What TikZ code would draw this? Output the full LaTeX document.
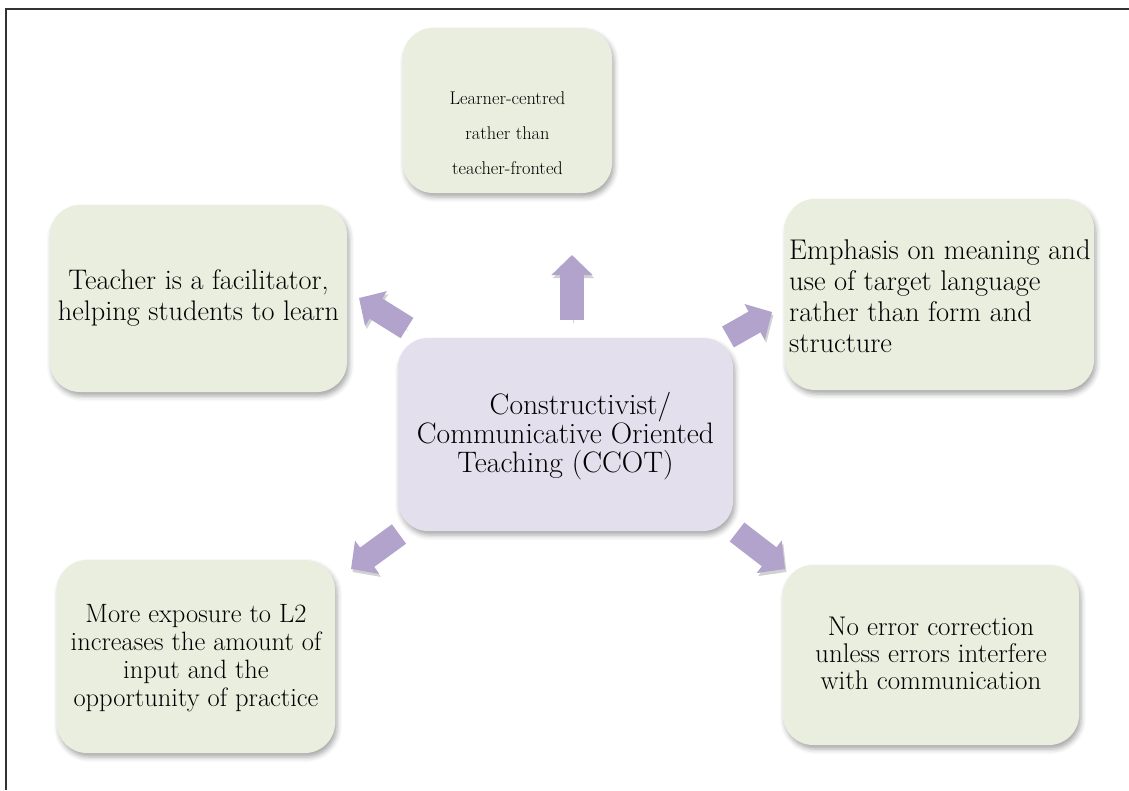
\documentclass[tikz,border=0pt]{standalone}
\usepackage{fontspec}
\usetikzlibrary{arrows.meta,shadows.blur}
\definecolor{boxgreen}{RGB}{234,238,223}
\definecolor{boxlilac}{RGB}{227,223,236}
\definecolor{arrowlilac}{RGB}{177,163,203}
\definecolor{framegray}{RGB}{50,50,50}
\tikzset{
  card/.style={rounded corners=30pt, fill=boxgreen, draw=none, inner sep=0pt,
    blur shadow={shadow xshift=2pt, shadow yshift=-4pt, shadow blur radius=5pt, shadow opacity=35}},
  hubcard/.style={card, fill=boxlilac},
  cardtext/.style={inner sep=0pt, align=center, text=black},
  bigarrow/.style={draw=arrowlilac, line width=24pt, -{Triangle[width=40pt,length=20pt]},
    preaction={draw=black!18, transform canvas={shift={(1.5pt,-3pt)}}}},
}
\begin{document}
\begin{tikzpicture}[x=1pt,y=-1pt]
\useasboundingbox (0,0) rectangle (1129,790);
\draw[framegray, line width=2pt] (6,790) -- (6,9) -- (1129,9);

% boxes
\node[card, minimum width=209pt, minimum height=165pt] (top) at (507.5,110.5) {};
\node[card, minimum width=297pt, minimum height=187pt] (tl) at (198.5,298.5) {};
\node[card, minimum width=309pt, minimum height=191pt] (tr) at (939.5,294.5) {};
\node[hubcard, minimum width=335pt, minimum height=193pt] (hub) at (565.5,434.5) {};
\node[card, minimum width=278pt, minimum height=193pt] (bl) at (196,656.5) {};
\node[card, minimum width=296pt, minimum height=180pt] (br) at (931,655) {};

% texts
\node[cardtext, font=\fontsize{18.4}{35}\selectfont] (toptext) at (507.5,133)
  {Learner-centred\\rather than\\teacher-fronted};
\node[cardtext, font=\fontsize{28.3}{31}\selectfont] (tltext) at (198.5,298)
  {Teacher is a facilitator,\\helping students to learn};
\node[cardtext, align=left, anchor=west, font=\fontsize{28.5}{31}\selectfont] (trtext) at (789,296.5)
  {Emphasis on meaning and\\use of target language\\rather than form and\\structure};
\node[cardtext, font=\fontsize{29.6}{29}\selectfont] (hubtext) at (565.5,436)
  {\hspace*{30pt}Constructivist/\\Communicative Oriented\\Teaching (CCOT)};
\node[cardtext, font=\fontsize{26.5}{28}\selectfont] (bltext) at (196,658.5)
  {More exposure to L2\\increases the amount of\\input and the\\opportunity of practice};
\node[cardtext, font=\fontsize{27}{27}\selectfont] (brtext) at (931,653)
  {No error correction\\unless errors interfere\\with communication};

% arrows
\coordinate (a1s) at (572,320); \coordinate (a1e) at (572,255);
\coordinate (a2s) at (407,328); \coordinate (a2e) at (359,298);
\coordinate (a3s) at (728,337); \coordinate (a3e) at (772,312);
\coordinate (a4s) at (399,534); \coordinate (a4e) at (351,569);
\coordinate (a5s) at (737,532); \coordinate (a5e) at (785,569);
\draw[bigarrow] (a1s) -- (a1e);
\draw[bigarrow] (a2s) -- (a2e);
\draw[bigarrow] (a3s) -- (a3e);
\draw[bigarrow] (a4s) -- (a4e);
\draw[bigarrow] (a5s) -- (a5e);
\end{tikzpicture}
\end{document}
